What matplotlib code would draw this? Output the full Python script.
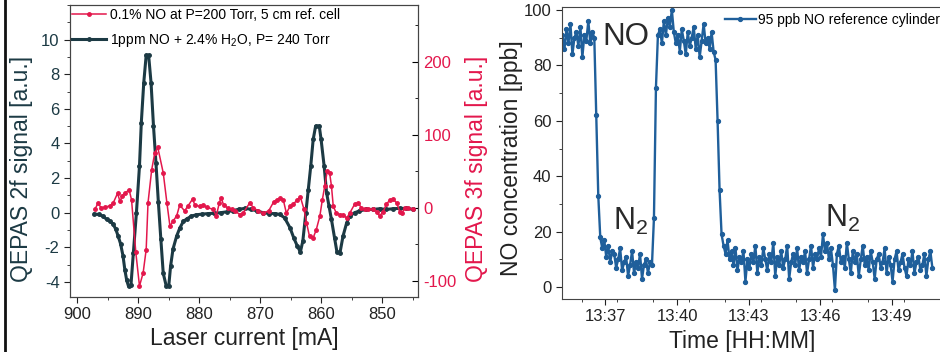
import numpy as np
import matplotlib
matplotlib.use("Agg")
import matplotlib.pyplot as plt
from matplotlib.ticker import MultipleLocator, FuncFormatter
from matplotlib.lines import Line2D

plt.rcParams['font.family'] = ['Liberation Sans', 'DejaVu Sans']
plt.rcParams['mathtext.fontset'] = 'custom'
plt.rcParams['mathtext.rm'] = 'Liberation Sans'
plt.rcParams['mathtext.it'] = 'Liberation Sans:italic'
plt.rcParams['axes.unicode_minus'] = False

# ---- left panel: 2f / 3f spectral scans ----
# 1 ppm NO + 2.4% H2O, 2f signal [a.u.]
current_2f = [897.2, 896.5, 895.8, 895.2, 894.6, 894.1, 893.7, 893.3, 892.9, 892.5,
              892.2, 891.9, 891.6, 891.2, 890.8, 890.3, 889.8, 889.5, 889.1, 888.7,
              888.3, 887.9, 887.5, 887.1, 886.7, 886.3, 885.9, 885.4, 885.0, 884.7,
              884.3, 883.7, 883.2, 882.6, 882.0, 881.3, 880.5, 879.5, 878.5, 877.5,
              876.5, 875.5, 874.5, 873.5, 872.5, 871.5, 870.5, 869.5, 868.5, 867.5,
              866.8, 866.0, 865.1, 864.5, 863.9, 863.4, 863.0, 862.5, 862.1, 861.7,
              861.3, 860.9, 860.3, 860.0, 859.5, 859.1, 858.7, 858.3, 857.8, 857.4,
              856.9, 856.4, 855.8, 855.3, 854.5, 853.7, 852.6, 851.5, 850.4, 849.3,
              848.2, 847.1, 846.0, 845.0]
signal_2f = [-0.08, -0.10, -0.20, -0.38, -0.50, -0.67, -0.95, -1.35, -1.80, -2.50,
             -3.30, -3.90, -4.25, -4.20, -2.30, 0.00, 2.70, 5.20, 7.50, 9.10,
             9.10, 7.50, 5.00, 2.90, 0.60, -1.50, -3.50, -4.25, -4.25, -3.10,
             -2.10, -1.35, -0.90, -0.50, -0.35, -0.20, -0.12, -0.08, -0.05, -0.03,
             0.00, 0.05, 0.12, 0.20, 0.25, 0.20, 0.10, 0.00, -0.05, -0.05,
             -0.10, -0.29, -0.87, -1.44, -1.93, -2.27, -1.64, 0.00, 1.34, 2.69,
             4.23, 5.00, 5.00, 4.23, 2.69, 1.15, 0.38, -0.39, -1.44, -2.27,
             -2.31, -1.35, -0.58, -0.19, 0.00, 0.10, 0.19, 0.19, 0.23, 0.19,
             0.23, 0.25, 0.25, 0.20]

# 0.1% NO reference cell, 3f signal [a.u.]
current_3f = [897.1, 896.6, 896.1, 895.5, 894.6, 894.1, 893.4, 893.0, 892.6, 892.2,
              891.5, 891.1, 890.4, 889.8, 889.2, 888.7, 888.4, 887.8, 887.3, 886.8,
              885.9, 885.3, 884.8, 884.3, 883.7, 883.2, 882.4, 881.9, 881.1, 880.7,
              879.9, 879.4, 878.8, 877.7, 877.2, 876.7, 876.4, 876.0, 875.3, 874.7,
              874.2, 873.3, 872.8, 871.7, 871.1, 870.3, 869.5, 868.6, 867.8, 867.3,
              866.8, 866.2, 865.7, 865.1, 864.6, 863.9, 863.4, 862.8, 862.4, 861.9,
              861.3, 860.8, 860.2, 859.8, 859.4, 859.0, 858.6, 858.3, 858.0, 857.5,
              856.9, 856.4, 855.8, 855.3, 854.5, 853.9, 853.4, 852.8, 852.3, 851.5,
              850.9, 850.4, 849.8, 849.3, 848.7, 848.2, 847.6, 847.1, 846.7, 846.3,
              845.7, 844.9]
signal_3f = [-2, 7, 0, 1, 3, 7, 20, 9, 17, 20,
             25, 11, -61, -107, -89, -57, 7, 52, 75, 83,
             48, 7, -25, -18, -11, 4, -4, 2, 12, 4,
             2, 4, 1, -2, -11, 7, 14, 4, 0, -2,
             -4, -9, -7, 7, 0, -4, -7, -4, 8, 11,
             13, 11, -7, 2, 5, 11, 15, -2, -20, -39,
             -41, -30, -11, 11, 30, 50, 48, 30, 2, -7,
             -9, -9, -14, -7, 5, 7, 0, -2, -1, -2,
             -5, -11, -5, 5, 11, 12, 7, -5, -7, 0,
             0, -2]

# ---- right panel: NO concentration time series (5 s samples from 13:35.2) ----
t_start = 35.2      # minutes after 13:00
t_step = 1 / 12     # 5 s
conc_ppb = [91, 86, 93, 88, 95, 84, 90, 92, 87, 94, 83, 91, 89, 96, 88, 92,
            90, 62, 33, 18,
            14, 17, 11, 15, 9, 13, 12, 7, 10, 14, 6, 9, 11, 4, 8, 13, 5, 9, 7, 12,
            3, 8, 10, 5, 9, 8,
            25, 72, 91,
            93, 88, 96, 91, 97, 94, 100, 92,
            88, 91, 85, 93, 89, 84, 92, 87, 90, 94, 86, 91, 83, 89, 95, 88, 90, 86, 92,
            85, 82, 60, 35, 19,
            15, 12, 17, 10, 13, 8, 14, 6, 11, 9,
            13, 2, 10, 7, 12, 9, 15, 5, 11, 8,
            14, 10, 6, 12, 9, 16, 4, 11, 8, 13,
            7, 10, 15, 3, 9, 12, 8, 14, 6, 11,
            9, 13, 5, 10, 15, 7, 12, 10, 14, 11,
            19, 13, 16, 10, 14, 8, -1, 12, 15, 9,
            11, 7, 16, 10, 5, 13, 9, 12, 4, 10,
            15, 8, 11, 6, 13, 9, 3, 10, 12, 7,
            9, 14, 5, 11, 8, 2, 10, 13, 6, 9,
            12, 7, 4, 10, 8, 13, 5, 9, 11, 6,
            8, 12, 4, 10, 13, 7]
time_ticks = [37, 40, 43, 46, 49]

DARK = '#1c3a44'
RED = '#e3174c'
BLUE = '#1f5f9b'
TXT = '#222222'

fig = plt.figure(figsize=(9.4, 3.52), dpi=100)
W, H = 940, 352

# left panel
ax1 = fig.add_axes([70 / W, 1 - 297 / H, 348 / W, 292 / H])
ax2 = ax1.twinx()
l1, = ax1.plot(current_2f, signal_2f, '-o', color=DARK, lw=2.2, ms=2.5)
l2, = ax2.plot(current_3f, signal_3f, '-o', color=RED, lw=1.1, ms=2.5)
ax1.set_xlim(901.2, 844.1)
ax1.set_ylim(-4.87, 12.0)
ax2.set_ylim(-122, 278)
ax1.xaxis.set_major_locator(MultipleLocator(10))
ax1.xaxis.set_minor_locator(MultipleLocator(5))
ax1.set_yticks([-4, -2, 0, 2, 4, 6, 8, 10])
ax1.yaxis.set_minor_locator(MultipleLocator(1))
ax2.yaxis.set_major_locator(MultipleLocator(100))
ax2.yaxis.set_minor_locator(MultipleLocator(50))
ax1.tick_params(axis='both', which='both', direction='out', labelsize=12, colors=TXT)
ax1.tick_params(axis='y', labelcolor=DARK)
ax1.tick_params(which='major', length=4)
ax1.tick_params(which='minor', length=2.5)
ax2.tick_params(axis='y', which='both', direction='in', labelsize=12, labelcolor=RED, pad=4)
ax2.tick_params(which='major', length=4)
ax2.tick_params(which='minor', length=2.5)
ax1.set_xlabel('Laser current [mA]', fontsize=16.5, color=TXT)
ax1.xaxis.set_label_coords(0.5, -0.103)
ax1.set_ylabel('QEPAS 2f signal [a.u.]', fontsize=16.5, color=DARK)
ax1.yaxis.set_label_coords(-0.106, 0.438)
ax2.set_ylabel('QEPAS 3f signal [a.u.]', fontsize=16.5, color=RED)
ax2.yaxis.set_label_coords(1.135, 0.438)
for a in (ax1, ax2):
    for s in a.spines.values():
        s.set_color('#444444')
ax2.legend([l2, l1], ['0.1% NO at P=200 Torr, 5 cm ref. cell',
                      r'1ppm NO + 2.4% H$_2$O, P= 240 Torr'],
           loc='upper left', bbox_to_anchor=(72 / W, 1 - 8 / H),
           bbox_transform=fig.transFigure, frameon=False, fontsize=10,
           handlelength=2.45, handletextpad=0.25, labelspacing=0.7,
           borderpad=0, borderaxespad=0)

# right panel
t = t_start + t_step * np.arange(len(conc_ppb))
ax3 = fig.add_axes([562 / W, 1 - 299 / H, 383 / W, 292 / H])
l3, = ax3.plot(t, conc_ppb, '-o', color=BLUE, lw=1.7, ms=2.8)
ax3.set_xlim(35.18, 51.23)
ax3.set_ylim(-4.3, 101.1)
ax3.set_xticks(time_ticks)
ax3.xaxis.set_minor_locator(MultipleLocator(1.5))
ax3.xaxis.set_major_formatter(FuncFormatter(lambda v, p: f'13:{int(round(v)):02d}'))
ax3.yaxis.set_major_locator(MultipleLocator(20))
ax3.yaxis.set_minor_locator(MultipleLocator(10))
ax3.tick_params(axis='both', which='both', direction='out', labelsize=12, colors=TXT)
ax3.tick_params(which='major', length=4)
ax3.tick_params(which='minor', length=2.5)
for s in ax3.spines.values():
    s.set_color('#444444')
ax3.set_xlabel('Time [HH:MM]', fontsize=16.5, color=TXT)
ax3.xaxis.set_label_coords(0.471, -0.106)
ax3.set_ylabel('NO concentration [ppb]', fontsize=16.5, color=TXT)
ax3.yaxis.set_label_coords(-0.102, 0.483)
ax3.text(36.86, 90.4, 'NO', fontsize=22.5, color='#2a2a2a', ha='left', va='center')
ax3.text(37.33, 20.6, r'N$_2$', fontsize=22, color='#2a2a2a', ha='left', va='baseline')
ax3.text(46.2, 21.8, r'N$_2$', fontsize=22, color='#2a2a2a', ha='left', va='baseline')
ax3.legend([l3], ['95 ppb NO reference cylinder'], loc='upper left',
           bbox_to_anchor=(725 / W, 1 - 13 / H), bbox_transform=fig.transFigure,
           frameon=False, fontsize=10, handlelength=2.2, handletextpad=0.2,
           borderpad=0, borderaxespad=0)

# scan border on the left edge
fig.add_artist(Line2D([5 / W, 5 / W], [0, 1], transform=fig.transFigure,
                      color='#111111', lw=2))

fig.savefig('out.png', dpi=100)
